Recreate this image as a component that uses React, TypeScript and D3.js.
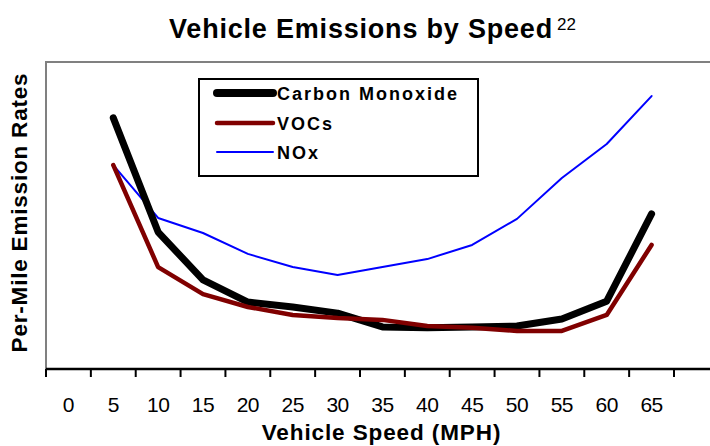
import React from 'react'
import * as d3 from 'd3'

// speeds shown on the axis (category bands) and the speeds that carry data
const axisSpeeds = ['0', '5', '10', '15', '20', '25', '30', '35', '40', '45', '50', '55', '60', '65']
const dataSpeeds = ['5', '10', '15', '20', '25', '30', '35', '40', '45', '50', '55', '60', '65']

// relative per-mile emission rates (no y scale shown in the original)
const carbonMonoxide = [81.8, 44.6, 29.0, 21.8, 20.2, 18.2, 13.7, 13.4, 13.7, 14.0, 16.3, 22.1, 50.5]
const vocs = [66.4, 33.2, 24.4, 20.2, 17.6, 16.6, 16.0, 14.0, 13.4, 12.4, 12.4, 17.6, 40.4]
const nox = [66.4, 49.2, 44.3, 37.5, 33.2, 30.6, 33.2, 35.8, 40.4, 48.9, 62.2, 73.3, 88.9]

const seriesNames = ['Carbon Monoxide', 'VOCs', 'NOx']
const seriesColors = ['#000000', '#800000', '#0000ff']
const seriesWidths = [7, 4.5, 2]

const W = 710
const H = 446
const font = '"Liberation Sans", Arial, sans-serif'

export default function App() {
  const plot = { left: 46, right: 674, top: 62, bottom: 369 }

  const x = d3.scaleBand<string>().domain(axisSpeeds).range([plot.left, plot.right])
  const y = d3.scaleLinear().domain([0, 100]).range([plot.bottom, plot.top])

  const line = d3
    .line<number>()
    .x((_, i) => (x(dataSpeeds[i]) as number) + x.bandwidth() / 2)
    .y(d => y(d))

  const series = [carbonMonoxide, vocs, nox]
  // draw order: NOx below, then CO, then VOCs on top
  const drawOrder = [2, 0, 1]

  const tickPositions = axisSpeeds.map(s => x(s) as number).concat([plot.right])

  const legend = { x: 199, y: 79, w: 279, h: 97 }
  const legendRows = [93, 123, 152]

  return (
    <svg
      width={W}
      height={H}
      style={{ position: 'absolute', left: 0, top: 0, background: '#fff' }}
      fontFamily={font}
    >
      {/* title */}
      <text x={169} y={38} fontSize={27} fontWeight="bold" letterSpacing={0.8} fill="#000">
        Vehicle Emissions by Speed
      </text>
      <text x={557} y={30} fontSize={17} fill="#000">
        22
      </text>

      {/* plot frame */}
      <path
        d={`M${plot.left},${plot.bottom} V${plot.top} H${W + 2}`}
        fill="none"
        stroke="#808080"
        strokeWidth={2}
      />

      {/* series */}
      {drawOrder.map(i => (
        <path
          key={seriesNames[i]}
          d={line(series[i]) || ''}
          fill="none"
          stroke={seriesColors[i]}
          strokeWidth={seriesWidths[i]}
          strokeLinejoin="round"
          strokeLinecap="round"
        />
      ))}

      {/* x axis */}
      <line x1={plot.left} x2={W} y1={plot.bottom} y2={plot.bottom} stroke="#000" strokeWidth={2.5} />
      {tickPositions.map((tx, i) => (
        <line key={i} x1={tx} x2={tx} y1={plot.bottom} y2={plot.bottom + 8} stroke="#000" strokeWidth={2} />
      ))}
      {axisSpeeds.map(s => (
        <text
          key={s}
          x={(x(s) as number) + x.bandwidth() / 2}
          y={412}
          fontSize={21}
          letterSpacing={-0.5}
          textAnchor="middle"
          fill="#000"
        >
          {s}
        </text>
      ))}
      <text x={381.5} y={440} fontSize={22.5} fontWeight="bold" textAnchor="middle" letterSpacing={0.9} fill="#000">
        Vehicle Speed (MPH)
      </text>

      {/* y axis title */}
      <text
        transform="translate(27,212.5) rotate(-90)"
        fontSize={22.5}
        fontWeight="bold"
        textAnchor="middle"
        letterSpacing={0.8}
        fill="#000"
      >
        Per-Mile Emission Rates
      </text>

      {/* legend */}
      <rect x={legend.x} y={legend.y} width={legend.w} height={legend.h} fill="#fff" stroke="#000" strokeWidth={2} />
      {seriesNames.map((name, i) => (
        <g key={name}>
          <line
            x1={217}
            x2={273}
            y1={legendRows[i]}
            y2={legendRows[i]}
            stroke={seriesColors[i]}
            strokeWidth={seriesWidths[i] + (i === 0 ? 1 : 0)}
            strokeLinecap="round"
          />
          <text x={277} y={legendRows[i] + 6.5} fontSize={18} fontWeight="bold" letterSpacing={2} fill="#000">
            {name}
          </text>
        </g>
      ))}
    </svg>
  )
}
